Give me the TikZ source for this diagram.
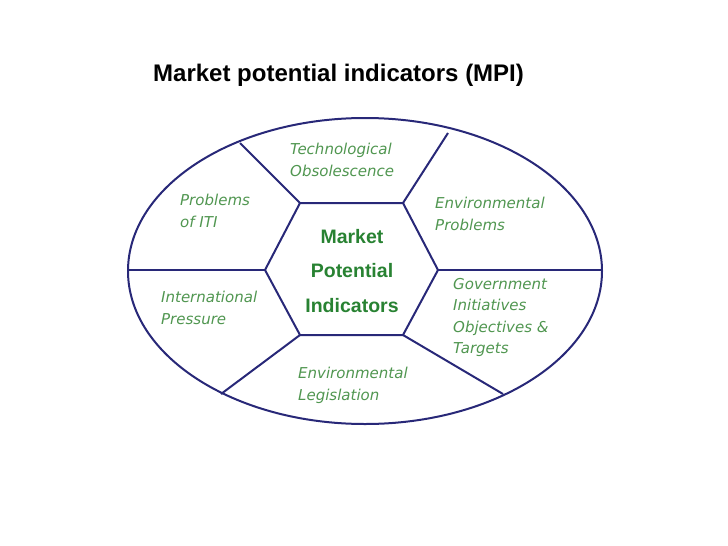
\documentclass[tikz,border=0pt]{standalone}
\usepackage{fontspec}
\setmainfont{Liberation Sans}
\newfontfamily\leaffont{DejaVu Sans}
\definecolor{rim}{RGB}{40,40,120}
\definecolor{core}{RGB}{40,130,50}
\definecolor{leaf}{RGB}{80,150,80}
\tikzset{
  rimline/.style={draw=rim,line width=2pt},
  leafbox/.style={text=leaf,font=\leaffont\fontsize{15}{21.5}\selectfont\itshape,align=left,anchor=north west,inner sep=0pt},
}
\begin{document}
\begin{tikzpicture}[x=1pt,y=-1pt]
    \useasboundingbox (0,0) rectangle (728,546);
    \node[font=\fontsize{24}{26}\selectfont\bfseries,anchor=west,inner sep=0pt] (title) at (153,75) {Market potential indicators (MPI)};

    % outer ring
    \draw[rimline] (365,271) ellipse[x radius=237,y radius=153];

    % hexagon corners
    \coordinate (hl) at (265,270);
    \coordinate (htl) at (300,203);
    \coordinate (htr) at (403,203);
    \coordinate (hr) at (438,270);
    \coordinate (hbr) at (403,335);
    \coordinate (hbl) at (300,335);
    \draw[rimline] (hl) -- (htl) -- (htr) -- (hr) -- (hbr) -- (hbl) -- cycle;

    % spoke ends on the ring
    \coordinate (el) at (128,270);
    \coordinate (etl) at (240,143);
    \coordinate (etr) at (448,133);
    \coordinate (er) at (602,270);
    \coordinate (ebr) at (503,394);
    \coordinate (ebl) at (221,394);
    \draw[rimline] (hl) -- (el);
    \draw[rimline] (htl) -- (etl);
    \draw[rimline] (htr) -- (etr);
    \draw[rimline] (hr) -- (er);
    \draw[rimline] (hbr) -- (ebr);
    \draw[rimline] (hbl) -- (ebl);

    \node[text=core,font=\fontsize{19.5}{34.5}\selectfont\bfseries,align=center] (mpi) at (352,271) {Market\\Potential\\Indicators};

    \node[leafbox] (techo) at (290,143) {Technological\\Obsolescence};
    \node[leafbox] (envp) at (435,197) {Environmental\\Problems};
    \node[leafbox] (gov) at (453,278) {Government\\Initiatives\\Objectives \&\\Targets};
    \node[leafbox] (envl) at (298,367) {Environmental\\Legislation};
    \node[leafbox] (intp) at (161,291) {International\\Pressure};
    \node[leafbox] (iti) at (180,194) {Problems\\of ITI};
\end{tikzpicture}
\end{document}
